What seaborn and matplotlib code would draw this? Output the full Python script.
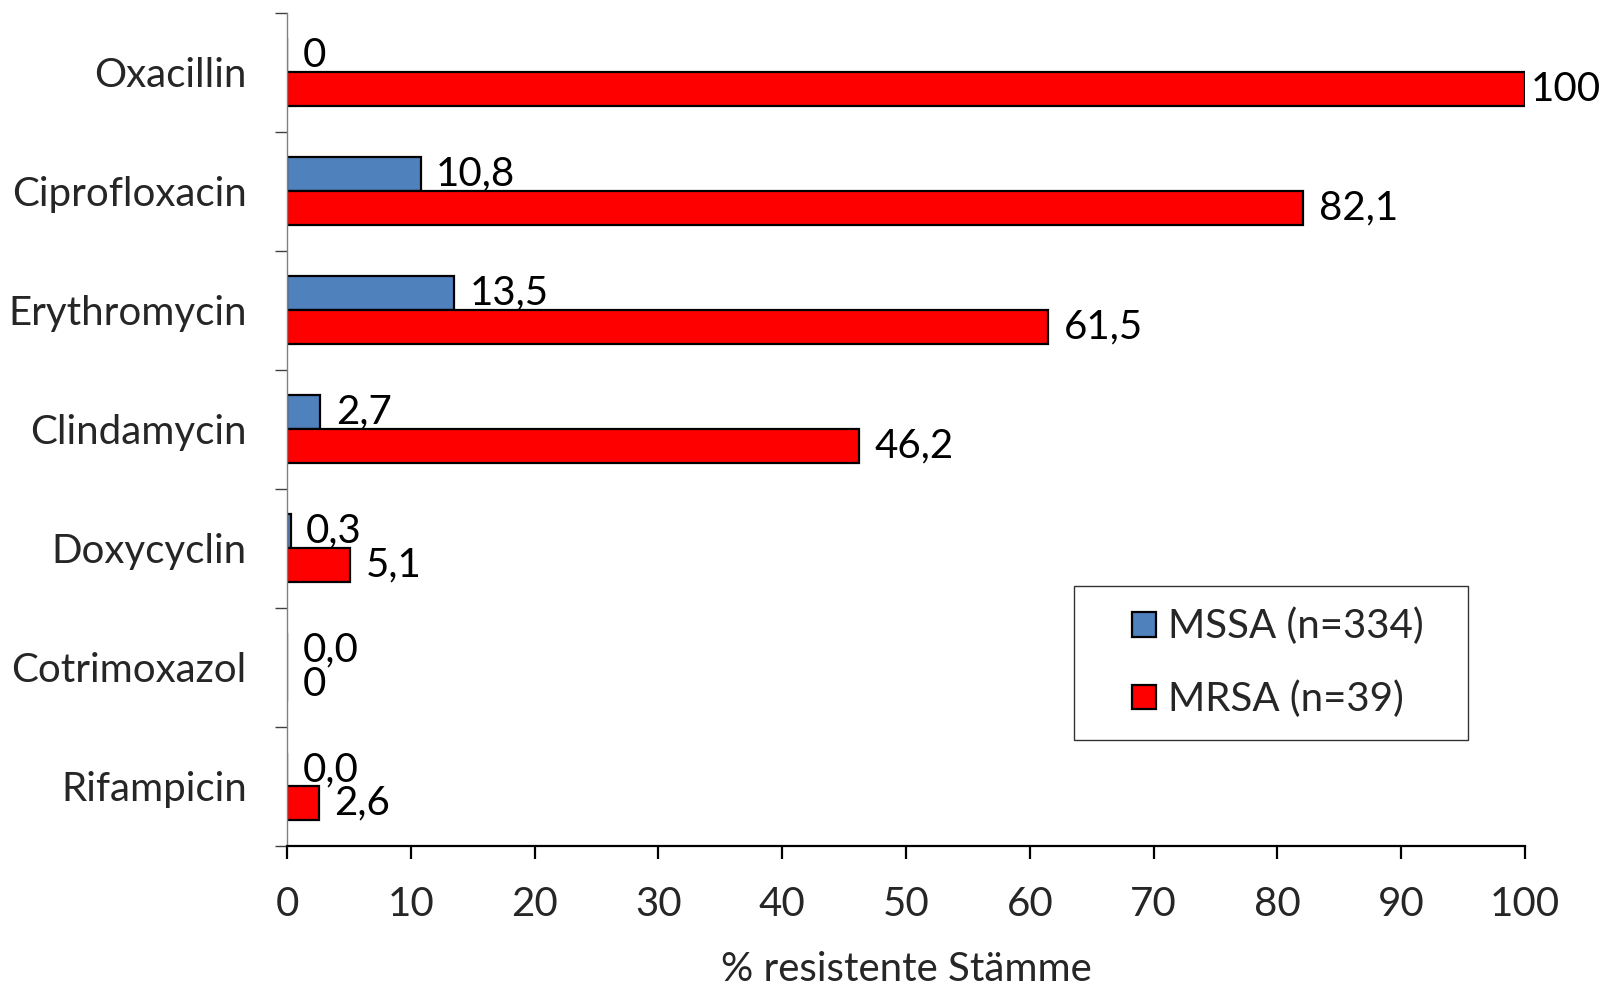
import matplotlib
matplotlib.use("Agg")
import matplotlib.pyplot as plt
from matplotlib.patches import Rectangle
from matplotlib.legend_handler import HandlerPatch
import seaborn as sns
import pandas as pd
import numpy as np

# Antibiotic resistance of S. aureus isolates
antibiotics = ["Oxacillin", "Ciprofloxacin", "Erythromycin", "Clindamycin",
               "Doxycyclin", "Cotrimoxazol", "Rifampicin"]
mssa_values = [0.0, 10.8, 13.5, 2.7, 0.3, 0.0, 0.0]
mrsa_values = [100.0, 82.1, 61.5, 46.2, 5.1, 0.0, 2.6]
mssa_labels = ["0", "10,8", "13,5", "2,7", "0,3", "0,0", "0,0"]
mrsa_labels = ["100", "82,1", "61,5", "46,2", "5,1", "0", "2,6"]
groups = ["MSSA (n=334)", "MRSA (n=39)"]
x_ticks = [0, 10, 20, 30, 40, 50, 60, 70, 80, 90, 100]

df = pd.DataFrame({
    "Antibiotikum": antibiotics * 2,
    "Wert": mssa_values + mrsa_values,
    "Gruppe": [groups[0]] * len(antibiotics) + [groups[1]] * len(antibiotics),
})

sns.set_theme(style="white")
plt.rcParams["font.family"] = ["Lato", "DejaVu Sans"]
FS = 29

fig = plt.figure(figsize=(16.09, 9.89), dpi=100)
ax = fig.add_axes([0.1784, 0.1446, 0.9478 - 0.1784, 0.9873 - 0.1446])

sns.barplot(data=df, y="Antibiotikum", x="Wert", hue="Gruppe", orient="h",
            palette=["#4F81BD", "#FF0000"], saturation=1, width=0.57, gap=0,
            edgecolor="black", linewidth=1.6, ax=ax, legend=True)

ax.set_xlim(0, 100)
ax.set_ylim(len(antibiotics) - 0.5, -0.5)

# value labels to the right of each bar end
for cont, labs in zip(ax.containers, [mssa_labels, mrsa_labels]):
    for bar, lab in zip(cont, labs):
        end = bar.get_x() + bar.get_width()
        yc = bar.get_y() + bar.get_height() / 2
        pad = 4 if end >= ax.get_xlim()[1] else 11
        ax.annotate(lab, xy=(end, yc), xytext=(pad, 0), textcoords="offset points",
                    ha="left", va="center", fontsize=FS, color="black",
                    annotation_clip=False)

ax.set_xticks(x_ticks)
ax.set_xticklabels([str(t) for t in x_ticks], fontsize=FS)
ax.set_yticks(range(len(antibiotics)))
ax.set_yticklabels(antibiotics, fontsize=FS)
ax.set_yticks(np.arange(-0.5, len(antibiotics), 1.0), minor=True)

ax.tick_params(axis="y", which="major", length=0, pad=29)
ax.tick_params(axis="y", which="minor", left=True, length=9, width=1.0, color="#404040")
ax.tick_params(axis="x", which="major", bottom=True, length=9, width=1.6,
               color="black", direction="out", pad=20)

ax.set_xlabel("% resistente Stämme", fontsize=FS, labelpad=20)
ax.set_ylabel("")

for side in ["top", "right"]:
    ax.spines[side].set_visible(False)
ax.spines["left"].set_color("#808080")
ax.spines["left"].set_linewidth(1.0)
ax.spines["bottom"].set_color("black")
ax.spines["bottom"].set_linewidth(1.6)
ax.grid(False)


def square_handle(legend, orig_handle, xdescent, ydescent, width, height, fontsize):
    s = 0.61 * fontsize
    return Rectangle((-xdescent + width - s, -ydescent + (height - s) / 2), s, s)


x0, y0, x1, y1 = 1074 / 1609, 1 - 735 / 989, 1468 / 1609, 1 - 586 / 989
leg = ax.legend(loc="upper left", bbox_to_anchor=(x0, y0, x1 - x0, y1 - y0),
                bbox_transform=fig.transFigure, mode="expand", fontsize=FS,
                frameon=True, fancybox=False, edgecolor="black",
                handlelength=1.5, handleheight=0.7, handletextpad=0.3,
                labelspacing=0.87, borderpad=0.54, borderaxespad=0,
                handler_map={Rectangle: HandlerPatch(patch_func=square_handle)})
leg.get_frame().set_linewidth(1.0)
for h in leg.legend_handles:
    h.set_edgecolor("black")
    h.set_linewidth(1.6)

fig.savefig("out.png", dpi=100, facecolor="white")
